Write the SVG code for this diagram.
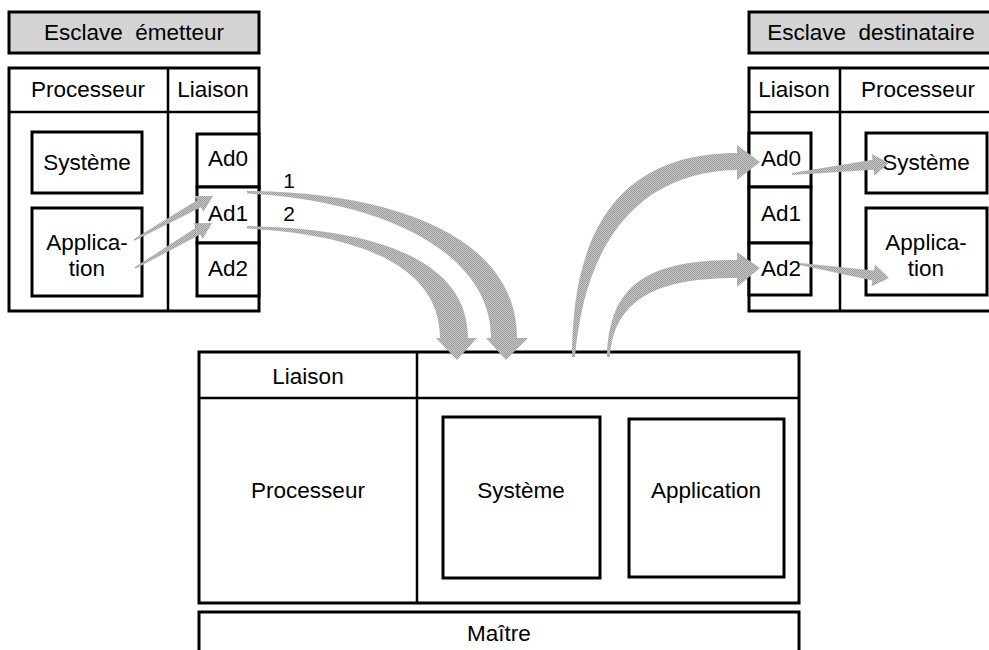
<svg xmlns="http://www.w3.org/2000/svg" width="989" height="650" viewBox="0 0 989 650">
<style>
.box{fill:#fff;stroke:#000;stroke-width:3}
.hdr{fill:#d4d4d4;stroke:#000;stroke-width:3}
.ln{stroke:#000;stroke-width:2.5;fill:none}
text{font-family:"Liberation Sans",Arial,sans-serif;font-size:22.5px;fill:#000;text-anchor:middle;white-space:pre}
.arr{fill:url(#dither);stroke:none}
</style>
<defs>
<pattern id="dither" patternUnits="userSpaceOnUse" width="2" height="2">
<rect width="2" height="2" fill="#c8c8c8"/>
<rect width="1" height="1" fill="#9a9a9a"/>
<rect x="1" y="1" width="1" height="1" fill="#9a9a9a"/>
</pattern>
</defs>
<rect width="989" height="650" fill="#fff"/>

<g id="sender">
<rect class="hdr" x="9" y="12" width="250" height="41"/>
<text x="134" y="40">Esclave  émetteur</text>
<rect class="box" x="9" y="68" width="250" height="243"/>
<line class="ln" x1="9" y1="112" x2="259" y2="112"/>
<line class="ln" x1="168" y1="68" x2="168" y2="311"/>
<text x="88" y="97">Processeur</text>
<text x="213" y="97">Liaison</text>
</g>
<g id="sender-systeme">
<rect class="box" x="32" y="132" width="110" height="61"/>
<text x="87" y="170">Système</text>
</g>
<g id="sender-application">
<rect class="box" x="32" y="208" width="110" height="88"/>
<text x="87" y="250">Applica-</text>
<text x="87" y="276">tion</text>
</g>
<g id="sender-ad">
<rect class="box" x="197" y="134" width="62" height="53"/>
<rect class="box" x="197" y="187" width="62" height="56"/>
<rect class="box" x="197" y="243" width="62" height="53"/>
<text x="228" y="166">Ad0</text>
<text x="228" y="221">Ad1</text>
<text x="228" y="276">Ad2</text>
</g>

<g id="receiver">
<rect class="hdr" x="749" y="12" width="250" height="41"/>
<text x="871" y="40">Esclave  destinataire</text>
<rect class="box" x="749" y="68" width="250" height="243"/>
<line class="ln" x1="749" y1="112" x2="999" y2="112"/>
<line class="ln" x1="840" y1="68" x2="840" y2="311"/>
<text x="794" y="97">Liaison</text>
<text x="918" y="97">Processeur</text>
</g>
<g id="receiver-ad">
<rect class="box" x="749" y="133" width="62" height="54"/>
<rect class="box" x="749" y="187" width="62" height="56"/>
<rect class="box" x="749" y="243" width="62" height="52"/>
<text x="781" y="166">Ad0</text>
<text x="781" y="221">Ad1</text>
<text x="781" y="276">Ad2</text>
</g>
<g id="receiver-systeme">
<rect class="box" x="866" y="133" width="121" height="60"/>
<text x="926" y="170">Système</text>
</g>
<g id="receiver-application">
<rect class="box" x="866" y="208" width="121" height="87"/>
<text x="926" y="250">Applica-</text>
<text x="926" y="276">tion</text>
</g>

<g id="master">
<rect class="box" x="199" y="352" width="600" height="251"/>
<line class="ln" x1="199" y1="398" x2="799" y2="398"/>
<line class="ln" x1="417" y1="352" x2="417" y2="603"/>
<text x="308" y="384">Liaison</text>
<text x="308" y="498">Processeur</text>
</g>
<g id="master-systeme">
<rect class="box" x="443" y="417" width="157" height="161"/>
<text x="521" y="498">Système</text>
</g>
<g id="master-application">
<rect class="box" x="629" y="419" width="155" height="158"/>
<text x="706" y="498">Application</text>
</g>
<g id="maitre">
<rect class="box" x="199" y="612" width="600" height="50"/>
<text x="499" y="641">Maître</text>
</g>

<g id="connectors">
<polygon class="arr" points="133.6,239.3 197,200.3 194.6,195.9 213,196 203.4,211.7 201,207.3 134.4,240.7"/>
<polygon class="arr" points="134.6,267.3 196.2,227.6 193.7,223.3 212,223 202.7,238.9 200.2,234.6 135.4,268.7"/>
<path class="arr" d="M247,191 C390,192 517,235 517,338 L528,338 L506,360 L486,338 L491,338 C491,252 382,200 247,193.5 Z"/>
<path class="arr" d="M247,226 C380,228 468,262 468,338 L477,338 L457,360 L436,338 L440,338 C440,272 372,235 247,228.5 Z"/>
<path class="arr" d="M572,357 C572,230 620,153 737,153 L737,145 L760,162 L737,180 L737,170 C640,172 585,240 575,357 Z"/>
<path class="arr" d="M607,357 C609,282 650,260 737,260 L737,252 L760,268 L737,287 L737,278 C662,278 614,296 610,357 Z"/>
<polygon class="arr" points="791.9,173 872.5,159.8 871.9,153.9 889,163 874.3,175.7 873.7,169.8 792.1,175"/>
<polygon class="arr" points="800.2,263 874,270.6 874.9,264.6 889,278 871.5,286.4 872.4,280.4 799.8,265"/>
</g>
<g id="labels">
<text x="289" y="188" style="font-size:21px">1</text>
<text x="289" y="221" style="font-size:21px">2</text>
</g>
</svg>
